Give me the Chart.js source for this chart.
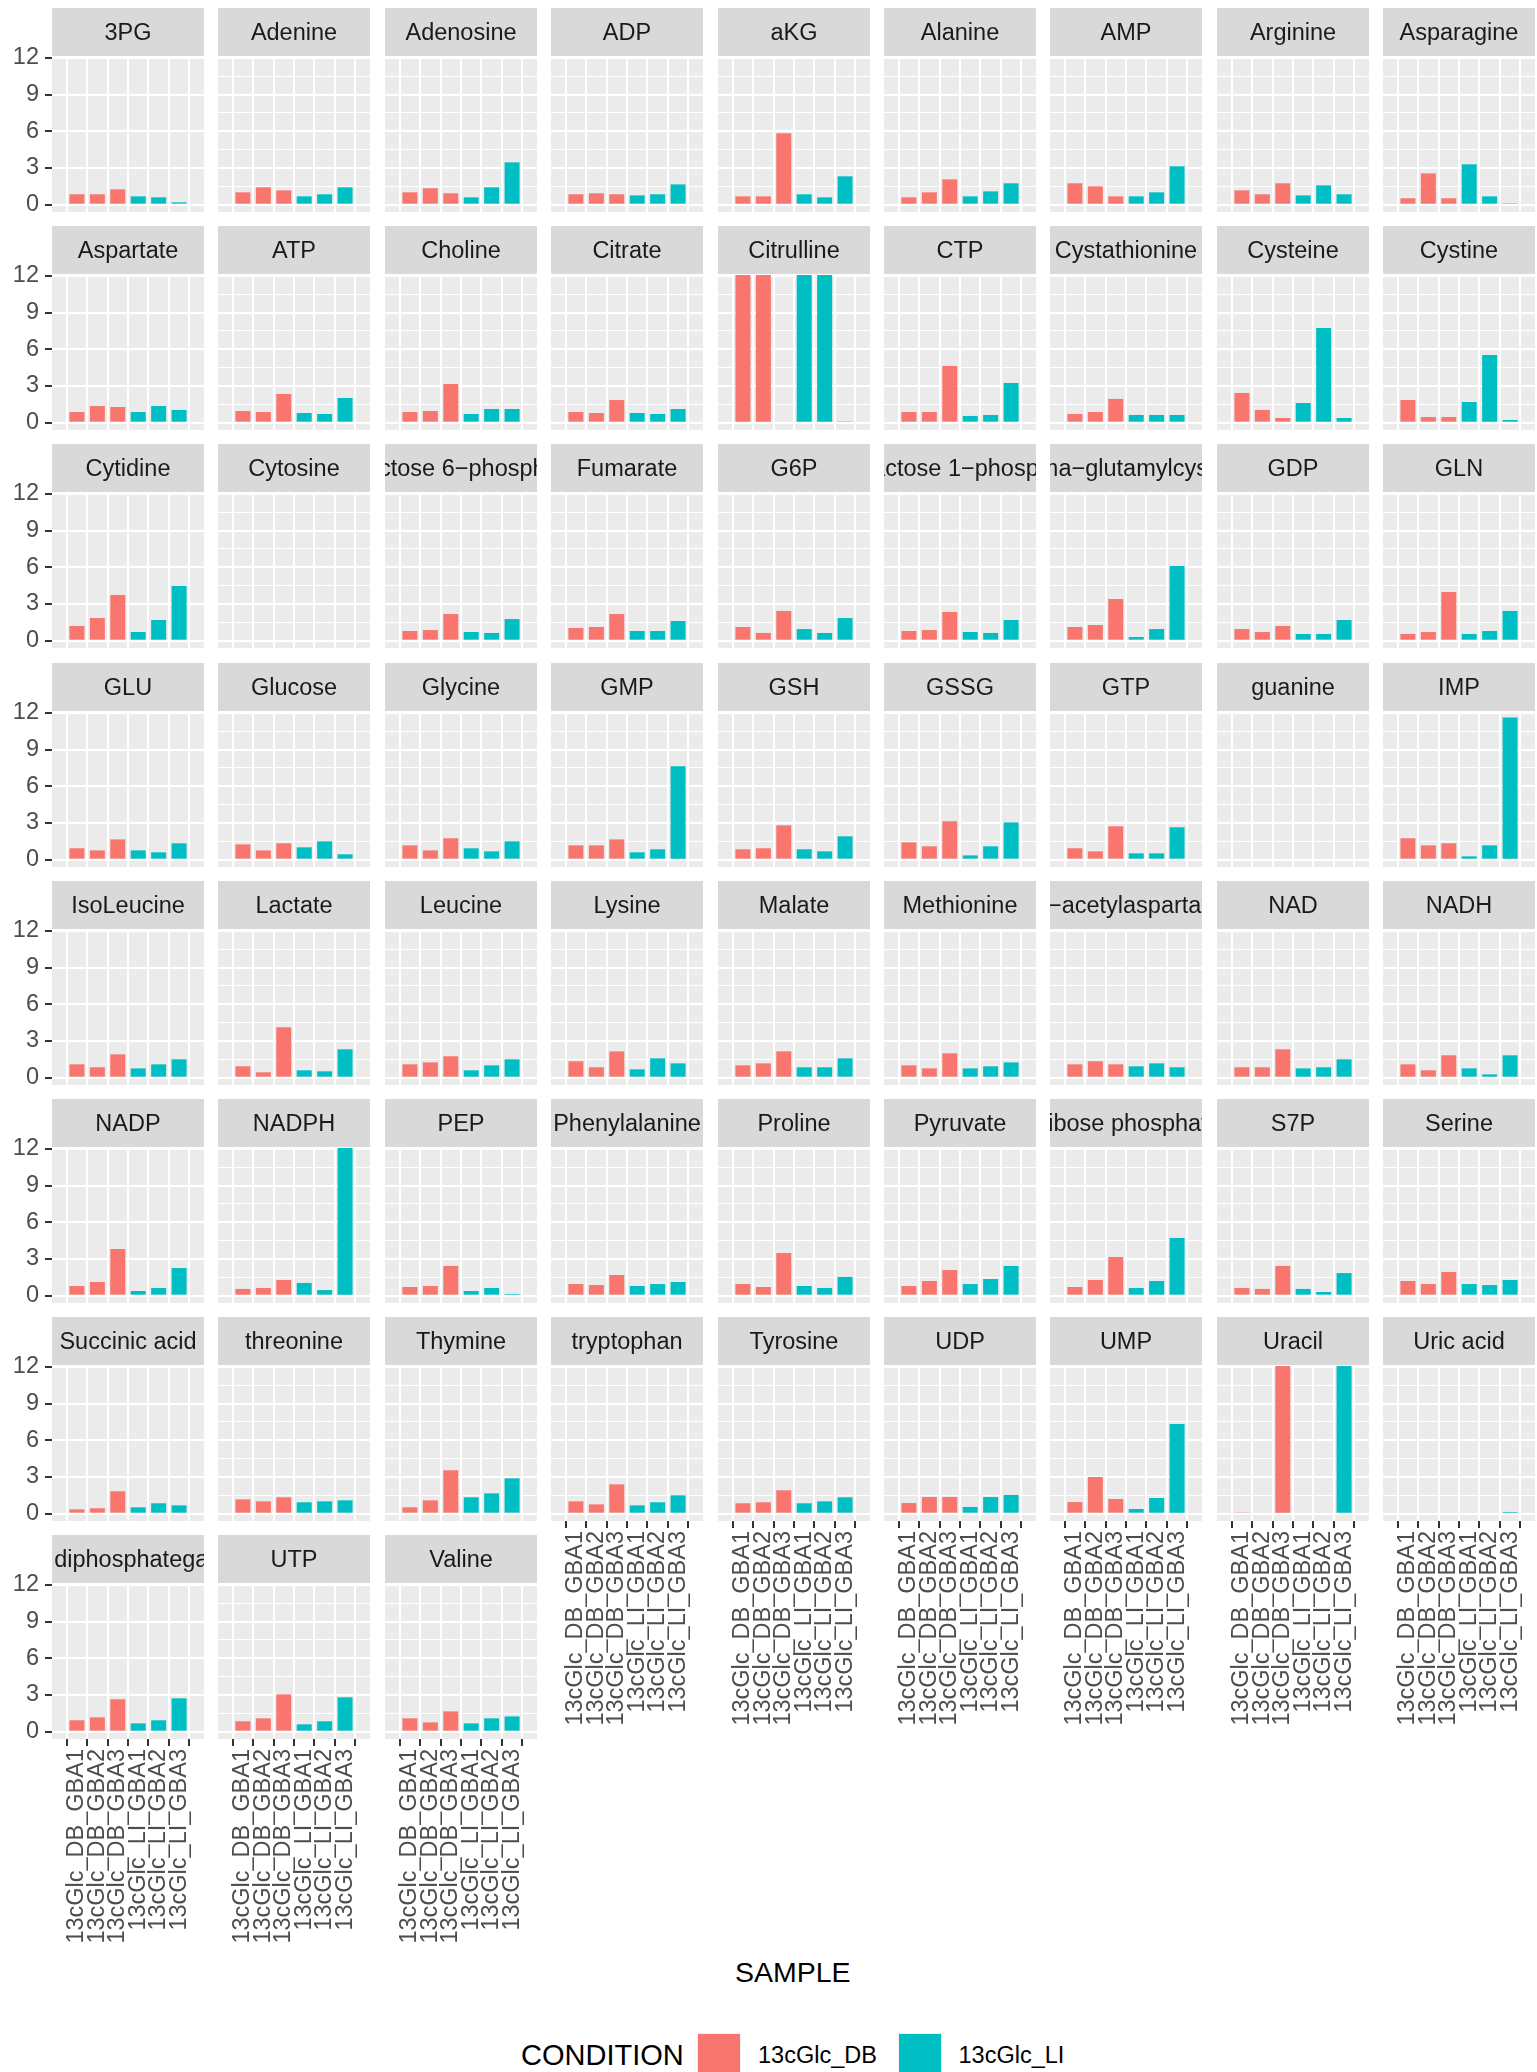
<!DOCTYPE html>
<html>
<head>
<meta charset="utf-8">
<script src="https://cdn.jsdelivr.net/npm/chart.js@4.4.0/dist/chart.umd.min.js"></script>
<style>
  body { margin: 0; background: #fff; width: 1537px; height: 2072px; position: relative; overflow: hidden;
         font-family: 'Liberation Sans', Arial, sans-serif; }
  canvas { position: absolute; }
  .txt { position: absolute; white-space: nowrap; color: #000; line-height: 1; }
  .key { position: absolute; width: 44px; height: 44px; background: #F2F2F2; }
  .key span { position: absolute; left: 1px; top: 1px; width: 42px; height: 42px; }
</style>
</head>
<body>
<div class="txt" style="left:792.8px; top:1958px; font-size:28.5px; transform:translateX(-50%)">SAMPLE</div>
<div class="txt" style="left:521px; top:2040.5px; font-size:29px">CONDITION</div>
<div class="key" style="left:697px; top:2033px"><span style="background:#F8766D"></span></div>
<div class="txt" style="left:758px; top:2043.5px; font-size:23.5px">13cGlc_DB</div>
<div class="key" style="left:898px; top:2033px"><span style="background:#00BFC4"></span></div>
<div class="txt" style="left:958.5px; top:2043.5px; font-size:23.5px">13cGlc_LI</div>

<script>
// 样本（x轴）和条件
const SAMPLES = ['13cGlc_DB_GBA1', '13cGlc_DB_GBA2', '13cGlc_DB_GBA3',
                 '13cGlc_LI_GBA1', '13cGlc_LI_GBA2', '13cGlc_LI_GBA3'];
const CONDITIONS = ['13cGlc_DB', '13cGlc_LI'];
const SAMPLE_CONDITION = [0, 0, 0, 1, 1, 1];
const CONDITION_COLORS = ['#F8766D', '#00BFC4'];
const Y_TICKS = [0, 3, 6, 9, 12];

// 每个分面的代谢物名称
const METABOLITES = [
  '3PG', 'Adenine', 'Adenosine', 'ADP', 'aKG', 'Alanine', 'AMP', 'Arginine', 'Asparagine',
  'Aspartate', 'ATP', 'Choline', 'Citrate', 'Citrulline', 'CTP', 'Cystathionine', 'Cysteine', 'Cystine',
  'Cytidine', 'Cytosine', 'Fructose 6−phosphate', 'Fumarate', 'G6P', 'Galactose 1−phosphate',
  'gamma−glutamylcysteine', 'GDP', 'GLN',
  'GLU', 'Glucose', 'Glycine', 'GMP', 'GSH', 'GSSG', 'GTP', 'guanine', 'IMP',
  'IsoLeucine', 'Lactate', 'Leucine', 'Lysine', 'Malate', 'Methionine', 'N−acetylaspartate', 'NAD', 'NADH',
  'NADP', 'NADPH', 'PEP', 'Phenylalanine', 'Proline', 'Pyruvate', 'Ribose phosphate', 'S7P', 'Serine',
  'Succinic acid', 'threonine', 'Thymine', 'tryptophan', 'Tyrosine', 'UDP', 'UMP', 'Uracil', 'Uric acid',
  'Uridine diphosphategalactose', 'UTP', 'Valine'
];

// 数值（顺序与 SAMPLES 相同），超出 12 的柱子在图中被截断
const VALUES = [
  [0.85, 0.85, 1.25, 0.68, 0.60, 0.19],   // 3PG
  [1.01, 1.42, 1.17, 0.68, 0.85, 1.42],   // Adenine
  [1.01, 1.34, 0.93, 0.60, 1.42, 3.46],   // Adenosine
  [0.85, 0.93, 0.85, 0.76, 0.85, 1.66],   // ADP
  [0.68, 0.68, 5.84, 0.85, 0.60, 2.32],   // aKG
  [0.60, 1.01, 2.07, 0.68, 1.09, 1.75],   // Alanine
  [1.75, 1.50, 0.68, 0.68, 1.01, 3.14],   // AMP
  [1.17, 0.85, 1.75, 0.76, 1.58, 0.85],   // Arginine
  [0.52, 2.56, 0.52, 3.30, 0.68, 0.11],   // Asparagine
  [0.87, 1.36, 1.28, 0.87, 1.36, 1.04],   // Aspartate
  [0.95, 0.87, 2.35, 0.79, 0.71, 2.02],   // ATP
  [0.87, 0.95, 3.16, 0.71, 1.12, 1.12],   // Choline
  [0.87, 0.79, 1.85, 0.79, 0.71, 1.12],   // Citrate
  [15, 15, null, 15, 15, 0.06],           // Citrulline
  [0.87, 0.87, 4.64, 0.55, 0.63, 3.25],   // CTP
  [0.71, 0.87, 1.94, 0.63, 0.63, 0.63],   // Cystathionine
  [2.43, 1.04, 0.38, 1.61, 7.74, 0.38],   // Cysteine
  [1.85, 0.46, 0.46, 1.69, 5.54, 0.22],   // Cystine
  [1.20, 1.85, 3.74, 0.71, 1.69, 4.47],   // Cytidine
  [null, null, null, null, null, null],   // Cytosine
  [0.79, 0.87, 2.18, 0.71, 0.63, 1.77],   // Fructose 6-phosphate
  [1.04, 1.12, 2.18, 0.79, 0.79, 1.61],   // Fumarate
  [1.12, 0.63, 2.43, 0.95, 0.63, 1.85],   // G6P
  [0.79, 0.87, 2.35, 0.71, 0.63, 1.69],   // Galactose 1-phosphate
  [1.12, 1.28, 3.41, 0.30, 0.95, 6.11],   // gamma-glutamylcysteine
  [0.95, 0.71, 1.20, 0.55, 0.55, 1.69],   // GDP
  [0.55, 0.71, 3.98, 0.55, 0.79, 2.43],   // GLN
  [0.93, 0.76, 1.66, 0.76, 0.60, 1.34],   // GLU
  [1.25, 0.76, 1.34, 1.01, 1.50, 0.44],   // Glucose
  [1.17, 0.76, 1.75, 0.93, 0.68, 1.50],   // Glycine
  [1.17, 1.17, 1.66, 0.60, 0.85, 7.64],   // GMP
  [0.85, 0.93, 2.81, 0.85, 0.68, 1.91],   // GSH
  [1.42, 1.09, 3.14, 0.35, 1.09, 3.05],   // GSSG
  [0.93, 0.68, 2.73, 0.52, 0.52, 2.65],   // GTP
  [null, null, null, null, null, null],   // guanine
  [1.75, 1.17, 1.34, 0.27, 1.17, 11.64],  // IMP
  [1.09, 0.85, 1.91, 0.76, 1.09, 1.50],   // IsoLeucine
  [0.93, 0.44, 4.12, 0.60, 0.52, 2.32],   // Lactate
  [1.09, 1.25, 1.75, 0.60, 1.01, 1.50],   // Leucine
  [1.34, 0.85, 2.15, 0.68, 1.58, 1.17],   // Lysine
  [1.01, 1.17, 2.15, 0.85, 0.85, 1.58],   // Malate
  [1.01, 0.76, 1.99, 0.76, 0.93, 1.25],   // Methionine
  [1.09, 1.34, 1.09, 0.93, 1.17, 0.85],   // N-acetylaspartate
  [0.85, 0.85, 2.32, 0.76, 0.85, 1.50],   // NAD
  [1.09, 0.60, 1.83, 0.76, 0.27, 1.83],   // NADH
  [0.79, 1.12, 3.82, 0.38, 0.63, 2.26],   // NADP
  [0.55, 0.63, 1.28, 1.04, 0.46, 15],     // NADPH
  [0.71, 0.79, 2.43, 0.38, 0.63, 0.14],   // PEP
  [0.95, 0.87, 1.69, 0.79, 0.95, 1.12],   // Phenylalanine
  [0.95, 0.71, 3.49, 0.79, 0.63, 1.53],   // Proline
  [0.79, 1.20, 2.10, 0.95, 1.36, 2.43],   // Pyruvate
  [0.71, 1.28, 3.16, 0.63, 1.20, 4.72],   // Ribose phosphate
  [0.63, 0.55, 2.43, 0.55, 0.30, 1.85],   // S7P
  [1.20, 0.95, 1.94, 0.95, 0.87, 1.28],   // Serine
  [0.35, 0.44, 1.83, 0.52, 0.85, 0.68],   // Succinic acid
  [1.17, 1.01, 1.34, 0.93, 1.01, 1.09],   // threonine
  [0.52, 1.09, 3.55, 1.34, 1.66, 2.89],   // Thymine
  [1.01, 0.76, 2.40, 0.68, 0.93, 1.50],   // tryptophan
  [0.85, 0.93, 1.91, 0.85, 1.01, 1.34],   // Tyrosine
  [0.87, 1.36, 1.36, 0.55, 1.36, 1.53],   // UDP
  [0.95, 3.00, 1.20, 0.38, 1.28, 7.34],   // UMP
  [0.06, null, 15, null, null, 15],       // Uracil
  [null, null, null, null, null, 0.14],   // Uric acid
  [0.93, 1.17, 2.65, 0.68, 0.93, 2.73],   // Uridine diphosphategalactose
  [0.85, 1.09, 3.05, 0.60, 0.85, 2.81],   // UTP
  [1.09, 0.76, 1.66, 0.68, 1.09, 1.25]    // Valine
];

// 版面尺寸
const NCOL = 9;
const PANEL_X0 = 52, COL_STEP = 166.4, PANEL_W = 152;
const ROW_Y0 = 8, ROW_STEP = 218.2, STRIP_H = 48, PANEL_H = 155;
const AXIS_W = 52, X_LABEL_H = 222, PAD_B = 10;
const FONT = "'Liberation Sans', Arial, sans-serif";
const TEXT_SIZE = 23.5;

Chart.defaults.font.family = FONT;

// 网格线：主刻度 + 中间的次网格
const GRID_Y = [];
Y_TICKS.forEach((v, i) => {
  GRID_Y.push(v);
  if (i < Y_TICKS.length - 1) GRID_Y.push((v + Y_TICKS[i + 1]) / 2);
});

// 面板背景和分面标题条
const panelDecor = {
  id: 'panelDecor',
  beforeDraw(chart) {
    const a = chart.chartArea, ctx = chart.ctx;
    ctx.save();
    ctx.fillStyle = '#EBEBEB';
    ctx.fillRect(a.left, a.top, a.right - a.left, a.bottom - a.top);
    ctx.restore();
  },
  afterDraw(chart, args, opts) {
    const a = chart.chartArea, ctx = chart.ctx;
    const w = a.right - a.left;
    ctx.save();
    ctx.fillStyle = '#D9D9D9';
    ctx.fillRect(a.left, 0, w, STRIP_H);
    ctx.beginPath();
    ctx.rect(a.left, 0, w, STRIP_H);
    ctx.clip();
    ctx.fillStyle = '#1A1A1A';
    ctx.font = TEXT_SIZE + 'px ' + FONT;
    ctx.textAlign = 'center';
    ctx.textBaseline = 'alphabetic';
    ctx.fillText(opts.label, a.left + w / 2, 32);
    ctx.restore();
  }
};

const fig = document.body;

METABOLITES.forEach((name, i) => {
  const r = Math.floor(i / NCOL), c = i % NCOL;
  const first = c === 0;
  const below = i + NCOL >= METABOLITES.length;   // 下方没有面板时显示 x 轴标签

  const canvas = document.createElement('canvas');
  const w = PANEL_W + (first ? AXIS_W : 0);
  const h = STRIP_H + 1 + PANEL_H + (below ? X_LABEL_H : PAD_B);
  canvas.width = w;
  canvas.height = h;
  canvas.style.left = (Math.round(PANEL_X0 + c * COL_STEP) - (first ? AXIS_W : 0)) + 'px';
  canvas.style.top = Math.round(ROW_Y0 + r * ROW_STEP) + 'px';
  fig.appendChild(canvas);

  new Chart(canvas, {
    type: 'bar',
    data: {
      datasets: [{
        data: VALUES[i].map((v, k) => ({ x: k + 1, y: v })),
        backgroundColor: SAMPLE_CONDITION.map(k => CONDITION_COLORS[k]),
        borderWidth: 0,
        barPercentage: 0.735,
        categoryPercentage: 1,
        clip: 0
      }]
    },
    options: {
      responsive: false,
      animation: false,
      devicePixelRatio: 1,
      layout: { padding: { top: STRIP_H + 1, left: 0, right: 0, bottom: below ? 0 : PAD_B } },
      plugins: {
        legend: { display: false },
        tooltip: { enabled: false },
        panelDecor: { label: name }
      },
      scales: {
        x: {
          type: 'linear',
          min: 0.4,
          max: SAMPLES.length + 0.6,
          afterBuildTicks: s => { s.ticks = SAMPLES.map((_, k) => ({ value: k + 1 })); },
          afterFit: s => {
            s.height = below ? X_LABEL_H : 0;
            s.paddingLeft = 0; s.paddingRight = 0;
          },
          border: { display: false },
          grid: {
            color: '#FFFFFF', lineWidth: 2,
            drawTicks: below, tickLength: 7, tickWidth: 2, tickColor: '#333333'
          },
          ticks: {
            display: below,
            autoSkip: false,
            minRotation: 90, maxRotation: 90,
            padding: 3,
            color: '#4D4D4D',
            font: { size: TEXT_SIZE },
            callback: v => SAMPLES[Math.round(v) - 1]
          }
        },
        y: {
          type: 'linear',
          min: -0.6,
          max: 12.08,
          afterBuildTicks: s => { s.ticks = GRID_Y.map(v => ({ value: v })); },
          afterFit: s => {
            s.width = first ? AXIS_W : 0;
            s.paddingTop = 0; s.paddingBottom = 0;
          },
          border: { display: false },
          grid: {
            color: '#FFFFFF',
            lineWidth: ctx => (ctx.tick && Y_TICKS.includes(ctx.tick.value)) ? 2 : 1,
            drawTicks: first, tickLength: 7, tickWidth: 2,
            tickColor: ctx => (ctx.tick && Y_TICKS.includes(ctx.tick.value)) ? '#333333' : 'rgba(0,0,0,0)'
          },
          ticks: {
            display: first,
            padding: 6,
            color: '#4D4D4D',
            font: { size: TEXT_SIZE },
            callback: v => Y_TICKS.includes(v) ? String(v) : ''
          }
        }
      }
    },
    plugins: [panelDecor]
  });
});
</script>
</body>
</html>
